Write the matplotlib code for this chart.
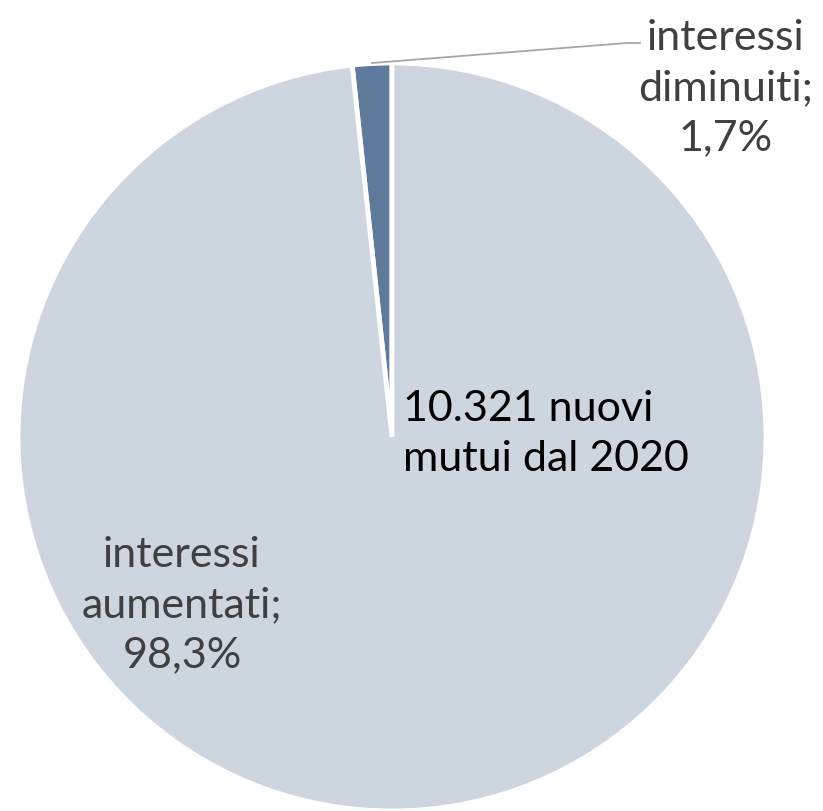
import matplotlib.pyplot as plt

# Data
labels = ["interessi\ndiminuiti;\n1,7%", "interessi\naumentati;\n98,3%"]
shares = [1.7, 98.3]
colors = ["#607a9c", "#cdd5df"]
center_text = "10.321 nuovi\nmutui dal 2020"

W, H = 823, 811
fig = plt.figure(figsize=(W / 100, H / 100), dpi=100)
ax = fig.add_axes([0, 0, 1, 1])

cx, cy, r = 392, H - 437, 374
ax.pie(shares, colors=colors, startangle=90, counterclock=True,
       center=(cx, cy), radius=r,
       wedgeprops=dict(edgecolor="white", linewidth=3.5))

# pie() resets the limits, so set pixel-like limits afterwards
ax.set_xlim(0, W)
ax.set_ylim(0, H)
ax.set_aspect("equal")
ax.axis("off")

font = "Lato"
# label for the small slice with leader line
ax.plot([372, 627, 640], [H - 63, H - 43, H - 43], color="#a6a6a6", lw=1.3)
ax.text(726, H - 88, labels[0], ha="center", va="center", fontsize=31,
        color="#404040", family=font, linespacing=1.38)
ax.text(182, H - 605, labels[1], ha="center", va="center", fontsize=31,
        color="#404040", family=font, linespacing=1.38)
ax.text(403, H - 434, center_text, ha="left", va="center", fontsize=31,
        color="black", family=font, linespacing=1.38)

fig.savefig("out.png", dpi=100)
